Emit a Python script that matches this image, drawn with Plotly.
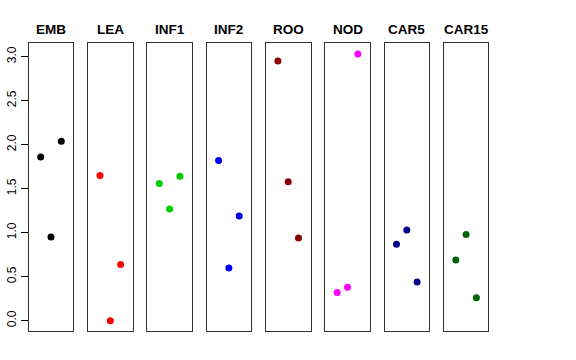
import plotly.graph_objects as go

panels = ["EMB", "LEA", "INF1", "INF2", "ROO", "NOD", "CAR5", "CAR15"]
colors = ["#000000", "#FF0000", "#00CD00", "#0000FF", "#8B0000", "#FF00FF", "#00008B", "#006400"]
x_pos = [1, 2, 3]
EMB = [1.86, 0.95, 2.04]
LEA = [1.65, 0.00, 0.64]
INF1 = [1.56, 1.27, 1.64]
INF2 = [1.82, 0.60, 1.19]
ROO = [2.95, 1.58, 0.94]
NOD = [0.32, 0.38, 3.03]
CAR5 = [0.87, 1.03, 0.44]
CAR15 = [0.69, 0.98, 0.26]
values = [EMB, LEA, INF1, INF2, ROO, NOD, CAR5, CAR15]
y_ticks = [0.0, 0.5, 1.0, 1.5, 2.0, 2.5, 3.0]

W, H = 576, 360
left0, pitch, pw = 28.7, 59.3, 44.6
ytop, ybot = 43.3, 331.0
title_y = 29

fig = go.Figure()
layout = dict(
    width=W, height=H, margin=dict(l=0, r=0, t=0, b=0, autoexpand=False),
    paper_bgcolor="white", plot_bgcolor="white", showlegend=False,
    font=dict(family="Liberation Sans, Arial, sans-serif", color="black"),
)
annotations = []
for i, (name, col, vals) in enumerate(zip(panels, colors, values)):
    n = "" if i == 0 else str(i + 1)
    x0 = left0 + i * pitch
    x1 = x0 + pw
    fig.add_trace(go.Scatter(
        x=x_pos, y=vals, mode="markers",
        marker=dict(color=col, size=7, line=dict(width=0)),
        xaxis="x" + n, yaxis="y" + n, hoverinfo="skip"))
    layout["xaxis" + n] = dict(
        domain=[x0 / W, x1 / W], range=[-0.165, 4.165], anchor="y" + n,
        showticklabels=False, ticks="", showgrid=False, zeroline=False,
        automargin=False,
        showline=True, linecolor="#333333", linewidth=1, mirror=True)
    yax = dict(
        domain=[1 - ybot / H, 1 - ytop / H], range=[-0.117, 3.152], anchor="x" + n,
        showgrid=False, zeroline=False, automargin=False,
        showline=True, linecolor="#333333", linewidth=1, mirror=True)
    if i == 0:
        yax.update(tickvals=y_ticks, ticktext=["%.1f" % v for v in y_ticks],
                   ticks="outside", ticklen=7, tickcolor="black", tickwidth=1,
                   tickangle=-90, tickfont=dict(size=12, color="black"))
    else:
        yax.update(showticklabels=False, ticks="")
    layout["yaxis" + n] = yax
    annotations.append(dict(
        text="<b>" + name + "</b>", x=(x0 + x1) / 2 / W, y=1 - title_y / H,
        xref="paper", yref="paper", showarrow=False,
        xanchor="center", yanchor="middle",
        font=dict(size=13.5, color="black")))
layout["annotations"] = annotations
fig.update_layout(**layout)
fig.write_html(
    "out.html",
    config={"displayModeBar": False},
    post_script="document.body.style.margin='0';document.body.style.overflow='hidden';",
)
